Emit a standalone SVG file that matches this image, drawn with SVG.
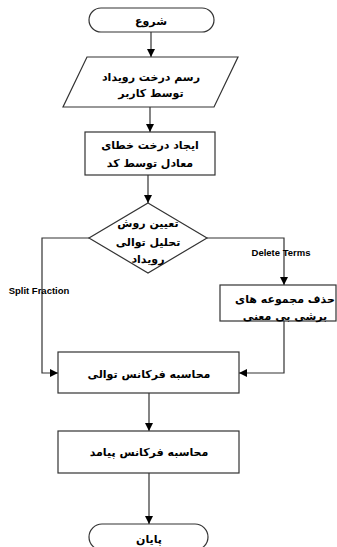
<svg xmlns="http://www.w3.org/2000/svg" width="337" height="547" viewBox="0 0 337 547">
<style>
.s{fill:#fff;stroke:#333;stroke-width:1.2}
.t{font-family:"DejaVu Sans",sans-serif;font-weight:bold;font-size:11px;fill:#000;text-anchor:middle}
.l{font-family:"Liberation Sans",Arial,sans-serif;font-weight:bold;font-size:9.5px;fill:#000;text-anchor:middle}
.c{fill:none;stroke:#333;stroke-width:1.2}
</style>
<defs>
<marker id="a" markerUnits="userSpaceOnUse" markerWidth="9" markerHeight="9" refX="8" refY="4" orient="auto">
<path d="M0,0 L8,4 L0,8 z" fill="#000"/>
</marker>
</defs>
<g id="connectors">
<path class="c" d="M151,32 V57" marker-end="url(#a)"/>
<path class="c" d="M150,107 V132" marker-end="url(#a)"/>
<path class="c" d="M148,175 V203" marker-end="url(#a)"/>
<path class="c" d="M89,238 H42 V373 H58" marker-end="url(#a)"/>
<path class="c" d="M207,238 H284 V285" marker-end="url(#a)"/>
<path class="c" d="M284,321 V373 H239" marker-end="url(#a)"/>
<path class="c" d="M149,393 V431" marker-end="url(#a)"/>
<path class="c" d="M149,473 V524" marker-end="url(#a)"/>
<text class="l" x="281" y="256">Delete Terms</text>
<text class="l" x="39" y="294">Split Fraction</text>
</g>
<g id="start">
<rect class="s" x="89" y="8" width="125" height="24" rx="12"/>
<text class="t" x="151" y="25">شروع</text>
</g>
<g id="draw">
<polygon class="s" points="87,57 238,57 214,107 63,107"/>
<text class="t" x="151" y="81">رسم درخت رویداد</text>
<text class="t" x="151" y="97">توسط کاربر</text>
</g>
<g id="create">
<rect class="s" x="85" y="132" width="130" height="43"/>
<text class="t" x="150" y="149">ایجاد درخت خطای</text>
<text class="t" x="150" y="167">معادل توسط کد</text>
</g>
<g id="decide">
<polygon class="s" points="148,203 207,238 148,273 89,238"/>
<text class="t" x="148" y="227">تعیین روش</text>
<text class="t" x="148" y="246">تحلیل توالی</text>
<text class="t" x="148" y="263">رویداد</text>
</g>
<g id="delete">
<rect class="s" x="220" y="285" width="116" height="36"/>
<text class="t" x="285" y="303">حذف مجموعه های</text>
<text class="t" x="285" y="320">برشی بی معنی</text>
</g>
<g id="seqfreq">
<rect class="s" x="58" y="352" width="181" height="41"/>
<text class="t" x="149" y="378">محاسبه فرکانس توالی</text>
</g>
<g id="outfreq">
<rect class="s" x="58" y="431" width="181" height="42"/>
<text class="t" x="149" y="456">محاسبه فرکانس پیامد</text>
</g>
<g id="end">
<rect class="s" x="89" y="524" width="119" height="26" rx="13"/>
<text class="t" x="149" y="543">پایان</text>
</g>
</svg>
